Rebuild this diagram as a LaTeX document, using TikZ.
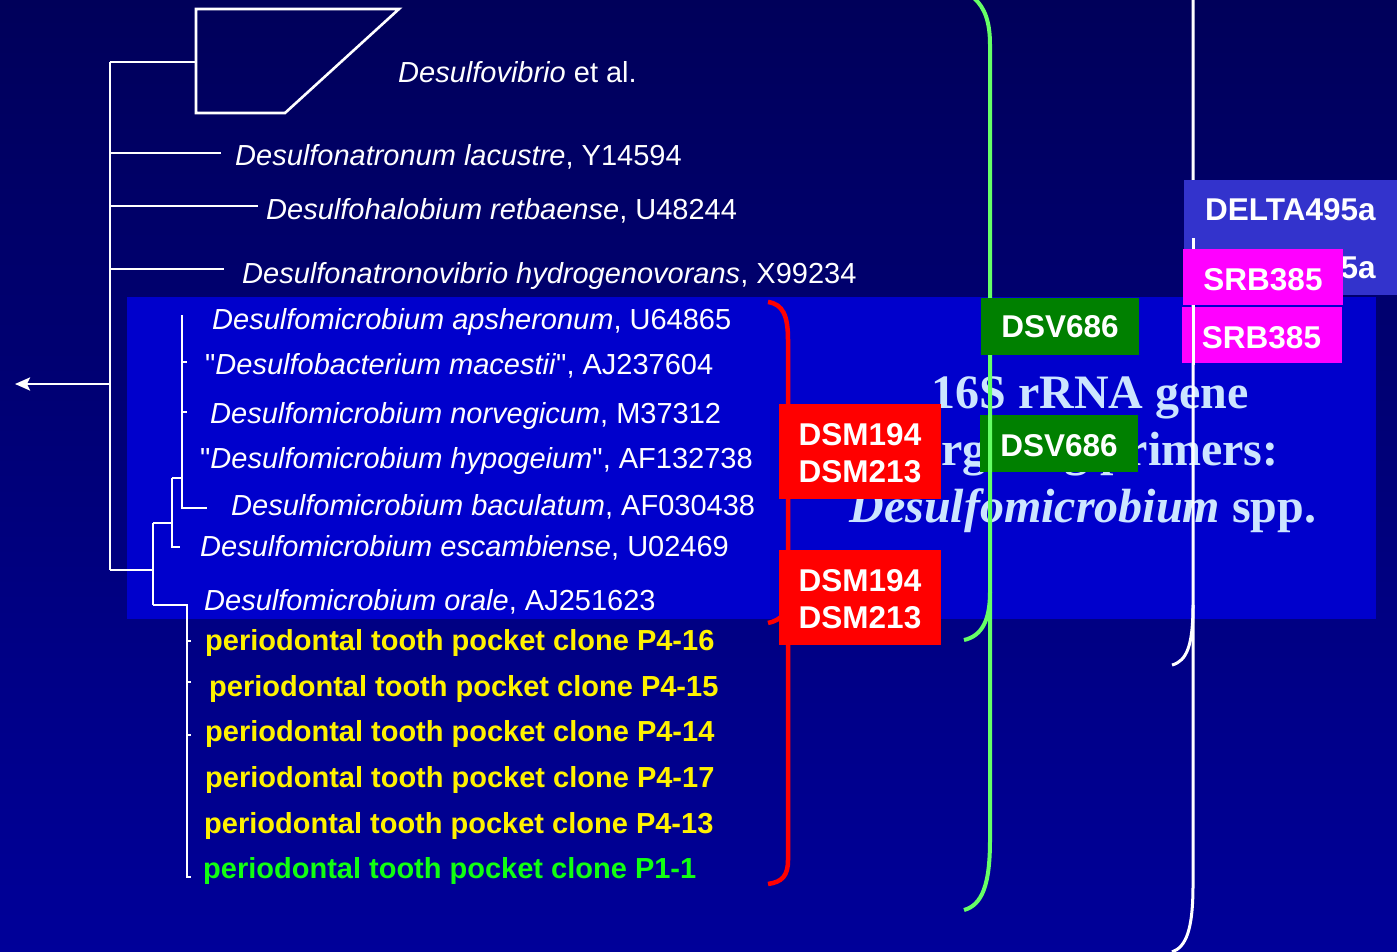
\documentclass[tikz,border=0pt]{standalone}
\usepackage{fontspec}
\setmainfont{Liberation Sans}
\newfontfamily\titlefont{Liberation Serif}
\newfontfamily\qfont{Liberation Sans}[Ligatures=TeXOff]
\newcommand{\sq}{{\qfont\symbol{34}}}
\usetikzlibrary{arrows.meta}
\definecolor{bgtop}{HTML}{00005A}
\definecolor{bgbot}{HTML}{000099}
\definecolor{panel}{HTML}{0000CC}
\definecolor{deltabox}{HTML}{3333CC}
\definecolor{titleblue}{HTML}{CCE5FF}
\definecolor{dsvgreen}{HTML}{008000}
\definecolor{brgreen}{HTML}{66FF66}
\definecolor{clonegreen}{HTML}{11FF11}
\definecolor{probered}{HTML}{FF0000}
\definecolor{srbpink}{HTML}{FF00FF}
\tikzset{
  tree/.style={white, line width=2.6pt},
  species/.style={anchor=base west, inner sep=0pt, text=white, font=\fontsize{29}{34}\selectfont},
  clone/.style={species, text=yellow, font=\fontsize{29}{34}\selectfont\bfseries},
  titletext/.style={anchor=base, inner sep=0pt, text=titleblue, font=\fontsize{48}{57}\selectfont\titlefont\bfseries},
  probetext/.style={inner sep=0pt, text=white, font=\fontsize{31.5}{37.5}\selectfont\bfseries, align=center},
  dsmbox/.style={probetext, fill=probered, minimum width=162pt, minimum height=95pt},
  dsvbox/.style={probetext, fill=dsvgreen, minimum width=158pt, minimum height=57pt},
  srbbox/.style={probetext, fill=srbpink, minimum width=160pt, minimum height=56pt, text height=26pt, text depth=0pt},
  redbr/.style={probered, line width=4.5pt},
  greenbr/.style={brgreen, line width=4pt},
  whitebr/.style={white, line width=3pt},
}
\begin{document}
\begin{tikzpicture}[x=1pt,y=-1pt]
\useasboundingbox (0,0) rectangle (1397,952);
\clip (0,0) rectangle (1397,952);
\shade[top color=bgtop, bottom color=bgbot] (0,0) rectangle (1397,952);
% panel
\fill[panel] (127,297) rectangle (1376,619);
% title
\node[titletext] (t1) at (1090,408) {16S rRNA gene};
\node[titletext] (t2) at (1090,465) {targeting primers:};
\node[titletext] (t3) at (1083,522) {\itshape Desulfomicrobium\upshape{} spp.};
% tree coordinates
\coordinate (root) at (110,384);
\coordinate (tip) at (15,384);
\coordinate (top) at (110,62);
\coordinate (bot) at (110,570);
\coordinate (m1) at (153,570);
\coordinate (m1a) at (153,523);
\coordinate (m1b) at (153,605);
\coordinate (m2a) at (172,523);
\coordinate (m2) at (172,478);
\coordinate (m2b) at (172,547);
\coordinate (m3) at (182,478);
\coordinate (m3t) at (182,315);
\coordinate (m3b) at (182,508);
\coordinate (c0) at (187,605);
\coordinate (c1) at (187,877);
% trapezoid
\draw[tree, line join=miter] (196,9) -- (399,9) -- (285,113) -- (196,113) -- cycle;
\draw[tree, -{Stealth[length=15pt,width=13pt,inset=3pt]}] (root) -- (tip);
\draw[tree] (top) -- (bot);
\draw[tree] (top) -- (196,62);
\draw[tree] (110,153) -- (221,153);
\draw[tree] (110,206) -- (258,206);
\draw[tree] (110,269) -- (224,269);
\draw[tree] (bot) -- (m1);
\draw[tree] (m1a) -- (m1b);
\draw[tree] (m1a) -- (m2a);
\draw[tree] (m2) -- (m2b) -- (180,547);
\draw[tree] (m2) -- (m3);
\draw[tree] (m3t) -- (m3b) -- (207,508);
\draw[tree] (182,362) -- (187,362);
\draw[tree] (182,412) -- (187,412);
\draw[tree] (m1b) -- (c0) -- (c1) -- (191,877);
\draw[tree] (187,641) -- (191,641);
\draw[tree] (187,682) -- (191,682);
\draw[tree] (187,735) -- (191,735);
% species
\node[species] (s1) at (398,83) {\textit{Desulfovibrio} et al.};
\node[species] (s2) at (235,166) {\textit{Desulfonatronum lacustre}, Y14594};
\node[species] (s3) at (266,219) {\textit{Desulfohalobium retbaense}, U48244};
\node[species] (s4) at (242,283) {\textit{Desulfonatronovibrio hydrogenovorans}, X99234};
\node[species] (s5) at (212,329) {\textit{Desulfomicrobium apsheronum}, U64865};
\node[species] (s6) at (205,374) {\sq\textit{Desulfobacterium macestii}\sq, AJ237604};
\node[species] (s7) at (210,423) {\textit{Desulfomicrobium norvegicum}, M37312};
\node[species] (s8) at (200,468) {\sq\textit{Desulfomicrobium hypogeium}\sq, AF132738};
\node[species] (s9) at (231,515) {\textit{Desulfomicrobium baculatum}, AF030438};
\node[species] (s10) at (200,556) {\textit{Desulfomicrobium escambiense}, U02469};
\node[species] (s11) at (204,610) {\textit{Desulfomicrobium orale}, AJ251623};
\node[clone] (p1) at (205,650) {periodontal tooth pocket clone P4-16};
\node[clone] (p2) at (209,696) {periodontal tooth pocket clone P4-15};
\node[clone] (p3) at (205,741) {periodontal tooth pocket clone P4-14};
\node[clone] (p4) at (205,787) {periodontal tooth pocket clone P4-17};
\node[clone] (p5) at (204,833) {periodontal tooth pocket clone P4-13};
\node[clone, text=clonegreen] (p6) at (203,878) {periodontal tooth pocket clone P1-1};
% red bracket
\draw[redbr] (768,302) .. controls (783,304) and (788,316) .. (788,340) -- (788,860) .. controls (788,876) and (782,882) .. (768,884);
\draw[redbr] (788,596) .. controls (788,612) and (782,620) .. (768,623);
\node[dsmbox] (dsm1) at (860,451.5) {\rule{0pt}{25pt}DSM194\\DSM213};
\node[dsmbox] (dsm2) at (860,597.5) {\rule{0pt}{25pt}DSM194\\DSM213};
% DSV box under green line
\node[dsvbox, text height=26pt, text depth=0pt] (dsv2) at (1059,443) {DSV686};
% green bracket
\draw[greenbr] (974,-2) .. controls (985,8) and (990,22) .. (990,45) -- (990,840) .. controls (990,885) and (982,905) .. (964,910);
\draw[greenbr] (990,592) .. controls (990,620) and (982,636) .. (964,640);
\node[dsvbox] (dsv1) at (1060,326.5) {DSV686};
% white bracket
\draw[whitebr] (1193,-2) -- (1193,885) .. controls (1193,930) and (1186,947) .. (1172,952);
\draw[whitebr] (1193,605) .. controls (1193,645) and (1187,661) .. (1172,665);
% delta box
\fill[deltabox] (1184,180) rectangle (1397,295);
\node[probetext, anchor=base west] (d1) at (1205,220) {DELTA495a};
\node[probetext, anchor=base west] (d2) at (1205,278) {DELTA495a};
\draw[whitebr] (1193,238) -- (1193,252);
\node[srbbox] (srb1) at (1263,277) {SRB385};
\node[srbbox] (srb2) at (1261.5,335) {SRB385};
\draw[whitebr] (1193,305) -- (1193,365);
\end{tikzpicture}
\end{document}
